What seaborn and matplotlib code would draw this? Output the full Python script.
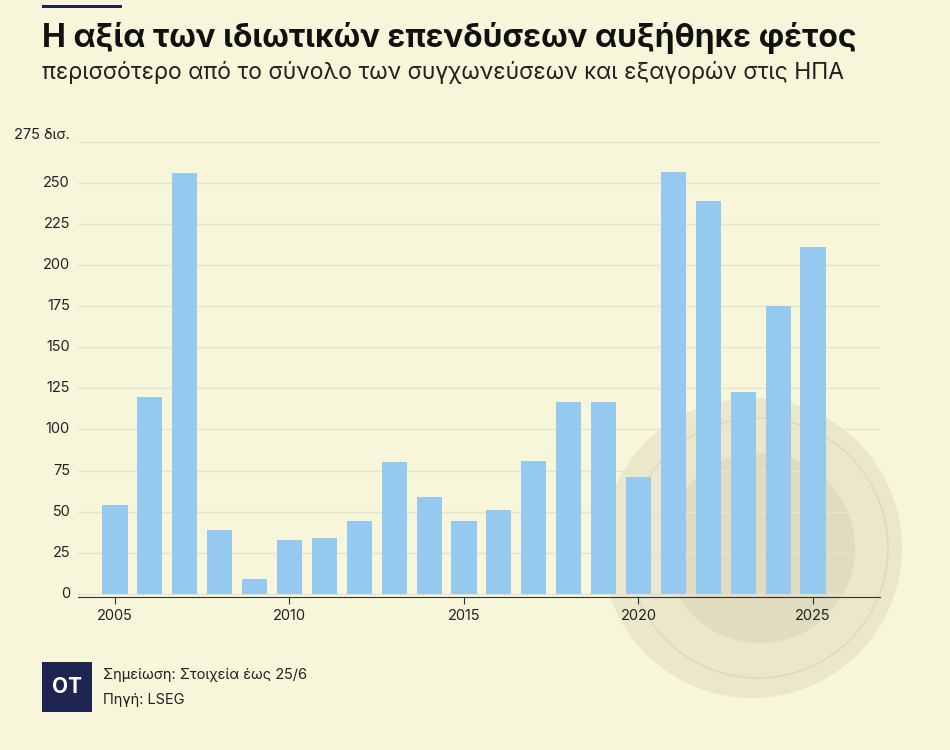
import matplotlib
matplotlib.use("Agg")
import matplotlib.pyplot as plt
import seaborn as sns
import pandas as pd
from matplotlib.patches import Rectangle, Ellipse

years = list(range(2005, 2026))
values = [54, 120, 256, 39, 9, 33, 34, 44, 80, 59, 44, 51, 81, 117, 117, 71, 257, 239, 123, 175, 211]
yticks = [0, 25, 50, 75, 100, 125, 150, 175, 200, 225, 250, 275]
ylabels = ["0", "25", "50", "75", "100", "125", "150", "175", "200", "225", "250", "275 δισ."]
xticks = [2005, 2010, 2015, 2020, 2025]

bg = "#f7f5da"
fig = plt.figure(figsize=(9.5, 7.5), dpi=100, facecolor=bg)
W, H = 950, 750
cy = (750 - 548) / H
fig.patches.append(Ellipse((752/W, cy), 300/W, 300/H, transform=fig.transFigure, facecolor="#ebe7cb", edgecolor="none", zorder=-2))
fig.patches.append(Ellipse((758/W, cy), 260/W, 260/H, transform=fig.transFigure, facecolor="none", edgecolor="#dcd8ba", lw=1, zorder=-2))
fig.patches.append(Ellipse((760/W, cy), 190/W, 190/H, transform=fig.transFigure, facecolor="#e0dcbf", edgecolor="none", zorder=-2))

ax = fig.add_axes([78/W, (750-597)/H, (880-78)/W, (597-142)/H])
ax.set_zorder(1)
ax.set_facecolor("none")
df = pd.DataFrame({"year": years, "value": values})
sns.barplot(data=df, x="year", y="value", native_scale=True, width=0.72, color="#95c9ef", saturation=1, ax=ax, zorder=3)
ax.set_xlim(2003.94, 2026.92)
ax.set_ylim(-2, 275)
ax.set_yticks(yticks)
ax.set_yticklabels([])
for t, l in zip(yticks, ylabels):
    ax.text(-8/(880-78), t, l, transform=ax.get_yaxis_transform(), ha="right", va="bottom" if t == 275 else "center", fontsize=10.5, color="#222", family="Inter")
ax.grid(axis="y", color="#e6e3cf", lw=1, zorder=0)
ax.set_xticks(xticks)
ax.set_xticklabels([str(x) for x in xticks], fontsize=10.5, family="Inter", color="#222")
ax.tick_params(axis="x", length=5, color="#333")
ax.tick_params(axis="y", length=0)
for s in ["left", "right", "top"]:
    ax.spines[s].set_visible(False)
ax.spines["bottom"].set_color("#333")
ax.set_xlabel("")
ax.set_ylabel("")

fig.patches.append(Rectangle((42/W, 742/H), 80/W, 3/H, transform=fig.transFigure, facecolor="#1d2550", zorder=5))
fig.text(42/W, 1-38/H, "Η αξία των ιδιωτικών επενδύσεων αυξήθηκε φέτος", fontsize=23, weight="bold", family="Inter", color="#111", va="center")
fig.text(42/W, 1-72/H, "περισσότερο από το σύνολο των συγχωνεύσεων και εξαγορών στις ΗΠΑ", fontsize=16.5, family="Inter", color="#222", va="center")

fig.patches.append(Rectangle((42/W, (750-712)/H), 50/W, 50/H, transform=fig.transFigure, facecolor="#1d2550", zorder=5))
fig.text(67/W, (750-687)/H, "OT", fontsize=15, weight="bold", color="white", ha="center", va="center", family="Inter", zorder=6)
fig.text(103/W, (750-675)/H, "Σημείωση: Στοιχεία έως 25/6", fontsize=10.5, family="Inter", color="#222", va="center")
fig.text(103/W, (750-700)/H, "Πηγή: LSEG", fontsize=10.5, family="Inter", color="#222", va="center")

fig.savefig("out.png", dpi=100, facecolor=bg)
